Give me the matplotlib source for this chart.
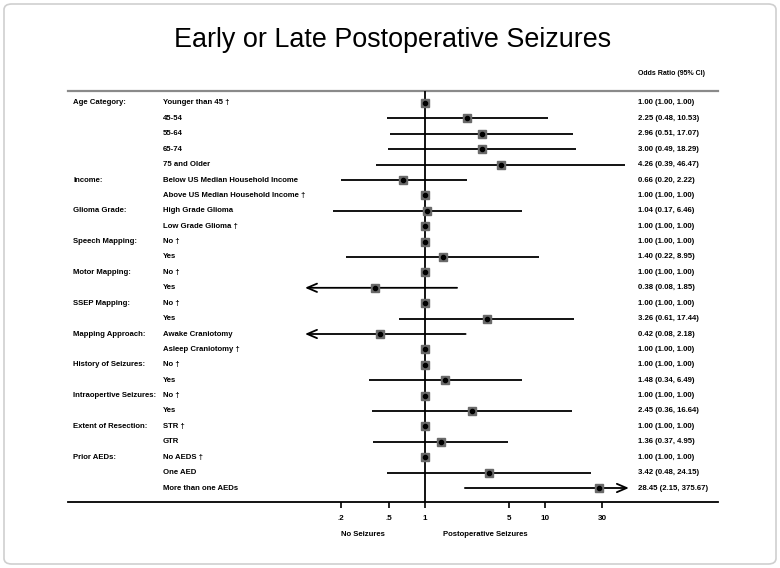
import numpy as np
import matplotlib
matplotlib.use('Agg')
from matplotlib import pyplot as plt
from matplotlib import transforms
from matplotlib.patches import FancyBboxPatch

plt.rcParams['font.family'] = ['Liberation Sans', 'DejaVu Sans']

# data
row_labels = ['Younger than 45 \u2020', '45-54', '55-64', '65-74', '75 and Older',
              'Below US Median Household Income', 'Above US Median Household Income \u2020',
              'High Grade Glioma', 'Low Grade Glioma \u2020',
              'No \u2020', 'Yes', 'No \u2020', 'Yes', 'No \u2020', 'Yes',
              'Awake Craniotomy', 'Asleep Craniotomy \u2020',
              'No \u2020', 'Yes', 'No \u2020', 'Yes',
              'STR \u2020', 'GTR',
              'No AEDS \u2020', 'One AED', 'More than one AEDs']
group_names = ['Age Category:', 'Income:', 'Glioma Grade:', 'Speech Mapping:', 'Motor Mapping:',
               'SSEP Mapping:', 'Mapping Approach:', 'History of Seizures:',
               'Intraopertive Seizures:', 'Extent of Resection:', 'Prior AEDs:']
group_start = [0, 5, 7, 9, 11, 13, 15, 17, 19, 21, 23]
odds = [1.00, 2.25, 2.96, 3.00, 4.26, 0.66, 1.00, 1.04, 1.00, 1.00, 1.40, 1.00, 0.38,
        1.00, 3.26, 0.42, 1.00, 1.00, 1.48, 1.00, 2.45, 1.00, 1.36, 1.00, 3.42, 28.45]
ci_lo = [1.00, 0.48, 0.51, 0.49, 0.39, 0.20, 1.00, 0.17, 1.00, 1.00, 0.22, 1.00, 0.08,
         1.00, 0.61, 0.08, 1.00, 1.00, 0.34, 1.00, 0.36, 1.00, 0.37, 1.00, 0.48, 2.15]
ci_hi = [1.00, 10.53, 17.07, 18.29, 46.47, 2.22, 1.00, 6.46, 1.00, 1.00, 8.95, 1.00, 1.85,
         1.00, 17.44, 2.18, 1.00, 1.00, 6.49, 1.00, 16.64, 1.00, 4.95, 1.00, 24.15, 375.67]
tick_vals = [0.2, 0.5, 1, 5, 10, 30]
tick_labels = ['.2', '.5', '1', '5', '10', '30']
clip_lo, clip_hi = 0.1, 50

W, H = 780, 568
fig = plt.figure(figsize=(W / 100, H / 100), dpi=100)

# axes spans the horizontal rules; x=1 at px 425, 120 px per decade
x0, x1, yt, yb = 68, 718, 91, 502
ax = fig.add_axes([x0 / W, 1 - yb / H, (x1 - x0) / W, (yb - yt) / H])
ax.set_xscale('log')
ax.set_xlim(10 ** ((x0 - 425) / 120), 10 ** ((x1 - 425) / 120))
step = 15.4
ax.set_ylim(-(yb - 103) / step, (103 - yt) / step)

n = len(odds)
ys = -np.arange(n)
arrow = dict(arrowstyle='->,head_length=0.7,head_width=0.3', lw=1.3, color='black',
             shrinkA=0, shrinkB=0)
for y, o, lo, hi in zip(ys, odds, ci_lo, ci_hi):
    a, b = max(lo, clip_lo), min(hi, clip_hi)
    if lo < clip_lo:
        ax.annotate('', xy=(a, y), xytext=(b, y), arrowprops=arrow)
    elif hi > clip_hi:
        ax.annotate('', xy=(b, y), xytext=(a, y), arrowprops=arrow)
    elif hi > lo:
        ax.plot([a, b], [y, y], color='black', lw=1.3, solid_capstyle='butt')
ax.axvline(1, color='black', lw=1.3, zorder=3)
ax.plot(odds, ys, 's', color='#6a6a6a', ms=5.5, zorder=4)
ax.plot(odds, ys, 'o', color='black', ms=3, zorder=5)

for s in ['left', 'right']:
    ax.spines[s].set_visible(False)
ax.spines['top'].set_color('#8a8a8a')
ax.spines['top'].set_linewidth(1.6)
ax.spines['bottom'].set_linewidth(1.3)
ax.set_yticks([])
ax.minorticks_off()
ax.set_xticks(tick_vals)
ax.set_xticklabels(tick_labels)
ax.tick_params(axis='x', which='major', length=4, width=1.2, labelsize=5.8, pad=5)
for t in ax.get_xticklabels():
    t.set_fontweight('bold')

tr = transforms.blended_transform_factory(fig.transFigure, ax.transData)
fs = 5.6
kw = dict(fontsize=fs, fontweight='bold', va='center')
for g, i in zip(group_names, group_start):
    fig.text(73 / W, ys[i], g, transform=tr, **kw)
for y, lab in zip(ys, row_labels):
    fig.text(163 / W, y, lab, transform=tr, **kw)
for y, o, lo, hi in zip(ys, odds, ci_lo, ci_hi):
    fig.text(638 / W, y, f'{o:.2f} ({lo:.2f}, {hi:.2f})', transform=tr, **kw)
fig.text(638 / W, 1 - 74 / H, 'Odds Ratio (95% CI)', fontsize=5.0, fontweight='bold', va='center')

fig.text(363 / W, 1 - 534 / H, 'No Seizures', ha='center', **kw)
fig.text(485 / W, 1 - 534 / H, 'Postoperative Seizures', ha='center', **kw)

fig.text(393 / W, 1 - 40 / H, 'Early or Late Postoperative Seizures', fontsize=19.4,
         ha='center', va='center')

fig.patches.append(FancyBboxPatch((4 / W, 4 / H), 772 / W, 560 / H,
                                  boxstyle='round,pad=0,rounding_size=0.01',
                                  transform=fig.transFigure, fill=False,
                                  ec='#cfcfcf', lw=1.2))

fig.savefig('out.png', dpi=100)
